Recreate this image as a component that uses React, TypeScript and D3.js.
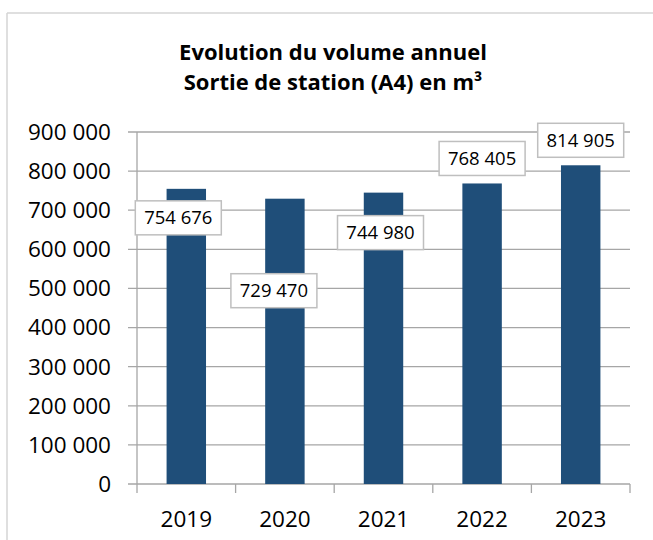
import React from "react";
import * as d3 from "d3";

const years: string[] = ["2019", "2020", "2021", "2022", "2023"];
const volumes: number[] = [754676, 729470, 744980, 768405, 814905];
const yTicks: number[] = [0, 100000, 200000, 300000, 400000, 500000, 600000, 700000, 800000, 900000];
// manual data label placement (offset of label centre from bar top, px)
const labelDx: number[] = [-8, -11, -3, 0, 0];
const labelDy: number[] = [29, 92, 40, -25, -25];
const titleLines: string[] = ["Evolution du volume annuel", "Sortie de station (A4) en m³"];

const W = 653;
const H = 540;
const FONT = "'Open Sans', sans-serif";

const fmt = (v: number) => d3.format(",")(v).replace(/,/g, " ");

export default function App() {
  const left = 137;
  const right = 630;
  const top = 132;
  const bottom = 484;

  const x = d3.scaleBand<string>().domain(years).range([left, right]).paddingInner(0).paddingOuter(0);
  const y = d3.scaleLinear().domain([0, 900000]).range([bottom, top]);
  const bw = x.bandwidth() * 0.4;

  return (
    <svg
      width={W}
      height={H}
      style={{ position: "absolute", left: 0, top: 0, background: "#fff" }}
      fontFamily={FONT}
    >
      <rect x={0} y={0} width={W} height={H} fill="#fff" />
      {/* chart frame */}
      <line x1={7} y1={13} x2={W} y2={13} stroke="#d4d4d4" strokeWidth={1.5} />
      <line x1={7} y1={13} x2={7} y2={H} stroke="#d4d4d4" strokeWidth={1.5} />

      {/* title */}
      {titleLines.map((t, i) => (
        <text
          key={t}
          x={333}
          y={60 + i * 30}
          textAnchor="middle"
          fontWeight="bold"
          fontSize={22}
          fill="#000"
        >
          {t}
        </text>
      ))}

      {/* gridlines & y ticks */}
      {yTicks.map((t) => (
        <g key={t}>
          <line x1={left - 9} x2={right} y1={y(t)} y2={y(t)} stroke="#a6a6a6" strokeWidth={1.3} />
          <text x={111} y={y(t)} dy="0.35em" textAnchor="end" fontSize={22.5} fill="#000">
            {fmt(t)}
          </text>
        </g>
      ))}

      {/* y axis */}
      <line x1={left} x2={left} y1={top} y2={bottom} stroke="#a6a6a6" strokeWidth={1.3} />

      {/* x ticks */}
      {years.concat(["end"]).map((_, i) => {
        const xx = i < years.length ? (x(years[i]) as number) : right;
        return <line key={i} x1={xx} x2={xx} y1={bottom} y2={bottom + 9} stroke="#a6a6a6" strokeWidth={1.3} />;
      })}

      {/* bars */}
      {years.map((yr, i) => {
        const cx = (x(yr) as number) + x.bandwidth() / 2;
        return (
          <rect
            key={yr}
            x={cx - bw / 2}
            y={y(volumes[i])}
            width={bw}
            height={bottom - y(volumes[i])}
            fill="#1f4e79"
          />
        );
      })}

      {/* x labels */}
      {years.map((yr) => (
        <text
          key={yr}
          x={(x(yr) as number) + x.bandwidth() / 2}
          y={527}
          textAnchor="middle"
          fontSize={22.5}
          fill="#000"
        >
          {yr}
        </text>
      ))}

      {/* data labels */}
      {years.map((yr, i) => {
        const cx = (x(yr) as number) + x.bandwidth() / 2 + labelDx[i];
        const cy = y(volumes[i]) + labelDy[i];
        const bwid = 86;
        const bh = 34;
        return (
          <g key={yr}>
            <rect
              x={cx - bwid / 2}
              y={cy - bh / 2}
              width={bwid}
              height={bh}
              fill="#fff"
              stroke="#bfbfbf"
              strokeWidth={1.5}
            />
            <text x={cx} y={cy} dy="0.36em" textAnchor="middle" fontSize={18.5} fill="#000">
              {fmt(volumes[i])}
            </text>
          </g>
        );
      })}
    </svg>
  );
}
